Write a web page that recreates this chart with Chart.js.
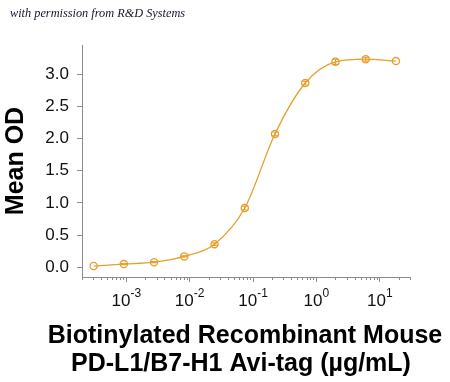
<!DOCTYPE html>
<html>
<head>
<meta charset="utf-8">
<script src="https://cdn.jsdelivr.net/npm/chart.js@4.4.1/dist/chart.umd.min.js"></script>
<style>
  html, body { margin: 0; padding: 0; background: #ffffff; }
  #wrap { position: relative; width: 450px; height: 382px; }
  #note { position: absolute; left: 10px; top: 6px; font-family: "Liberation Serif", "DejaVu Serif", serif; font-style: italic; font-size: 12.3px; color: #15152e; white-space: nowrap; }
  canvas { position: absolute; left: 0; top: 0; }
</style>
</head>
<body>
<div id="wrap">
  <canvas id="c" width="450" height="382"></canvas>
  <div id="note">with permission from R&amp;D Systems</div>
</div>
<script>
// ---- Data ----
const concentrations = [0.000305, 0.000914, 0.00274, 0.00823, 0.0247, 0.0741, 0.222, 0.667, 2, 6, 18];
const meanOD        = [0.02, 0.05, 0.08, 0.17, 0.36, 0.92, 2.07, 2.86, 3.19, 3.23, 3.20];
const errorOD       = [0.00, 0.01, 0.01, 0.01, 0.02, 0.03, 0.03, 0.03, 0.04, 0.03, 0.00];
const yTickValues   = [0.0, 0.5, 1.0, 1.5, 2.0, 2.5, 3.0];
const xTickValues   = [0.001, 0.01, 0.1, 1, 10];
const xTickExponents = ["-3", "-2", "-1", "0", "1"];
const xTitleLines   = ["Biotinylated Recombinant Mouse", "PD-L1/B7-H1 Avi-tag (\u00b5g/mL)"];
const yTitle        = "Mean OD";

const ORANGE = '#E89E2A';
const AXIS = '#8a8a8a';
const FONT = '"Liberation Sans", Arial, Helvetica, sans-serif';

const points = concentrations.map((c, i) => ({x: c, y: meanOD[i]}));

const extras = {
  id: 'extras',
  afterDatasetsDraw(chart) {
    const ctx = chart.ctx;
    const xs = chart.scales.x, ys = chart.scales.y;
    // error bars
    ctx.save();
    ctx.strokeStyle = ORANGE;
    ctx.lineWidth = 1.1;
    concentrations.forEach((c, i) => {
      const e = errorOD[i];
      if (!e) return;
      const px = xs.getPixelForValue(c);
      const y1 = ys.getPixelForValue(meanOD[i] + e);
      const y2 = ys.getPixelForValue(meanOD[i] - e);
      ctx.beginPath();
      ctx.moveTo(px, y1); ctx.lineTo(px, y2);
      ctx.moveTo(px - 3.5, y1); ctx.lineTo(px + 3.5, y1);
      ctx.moveTo(px - 3.5, y2); ctx.lineTo(px + 3.5, y2);
      ctx.stroke();
    });
    ctx.restore();
  },
  afterDraw(chart) {
    const ctx = chart.ctx;
    const xs = chart.scales.x;
    const base = chart.chartArea.bottom;
    ctx.save();
    // minor ticks
    ctx.strokeStyle = AXIS;
    ctx.lineWidth = 1;
    for (let k = -4; k <= 1; k++) {
      for (let m = 2; m <= 9; m++) {
        const v = m * Math.pow(10, k);
        if (v < xs.min || v > xs.max) continue;
        const px = Math.round(xs.getPixelForValue(v)) + 0.5;
        ctx.beginPath();
        ctx.moveTo(px, base); ctx.lineTo(px, base + 3);
        ctx.stroke();
      }
    }
    // x tick labels: 10 with superscript exponent
    ctx.fillStyle = '#111';
    ctx.textBaseline = 'alphabetic';
    xTickValues.forEach((v, i) => {
      const px = xs.getPixelForValue(v);
      ctx.font = '17px ' + FONT;
      const w1 = ctx.measureText('10').width;
      ctx.font = '12px ' + FONT;
      const w2 = ctx.measureText(xTickExponents[i]).width;
      const start = px - (w1 + w2) / 2;
      ctx.font = '17px ' + FONT;
      ctx.textAlign = 'left';
      ctx.fillText('10', start, 306);
      ctx.font = '12px ' + FONT;
      ctx.fillText(xTickExponents[i], start + w1, 297);
    });
    // x axis title
    ctx.font = 'bold 25px ' + FONT;
    ctx.textAlign = 'center';
    ctx.fillStyle = '#000';
    ctx.fillText(xTitleLines[0], 245, 343);
    ctx.fillText(xTitleLines[1], 241, 371);
    ctx.restore();
  }
};

new Chart(document.getElementById('c'), {
  type: 'line',
  data: {
    datasets: [{
      data: points,
      borderColor: ORANGE,
      borderWidth: 1.3,
      cubicInterpolationMode: 'monotone',
      pointStyle: 'circle',
      pointRadius: 3.6,
      pointBorderWidth: 1.3,
      pointBorderColor: ORANGE,
      pointBackgroundColor: 'rgba(255,255,255,0)',
      fill: false
    }]
  },
  options: {
    responsive: false,
    animation: false,
    devicePixelRatio: 1,
    layout: { padding: { top: 45, right: 40, left: 0, bottom: 0 } },
    plugins: { legend: { display: false }, tooltip: { enabled: false } },
    scales: {
      x: {
        type: 'logarithmic',
        min: 0.0002,
        max: 30,
        afterBuildTicks(scale) { scale.ticks = xTickValues.map(v => ({value: v})); },
        afterFit(scale) { scale.height = 105; },
        ticks: { display: false },
        grid: { drawOnChartArea: false, drawTicks: true, tickLength: 5, color: AXIS, tickWidth: 1 },
        border: { display: true, color: AXIS, width: 1 }
      },
      y: {
        type: 'linear',
        min: -0.15,
        max: 3.45,
        afterBuildTicks(scale) { scale.ticks = yTickValues.map(v => ({value: v})); },
        afterFit(scale) { scale.width = 82; },
        ticks: {
          padding: 8,
          color: '#111',
          font: { family: FONT, size: 17 },
          callback: v => Number(v).toFixed(1)
        },
        grid: { drawOnChartArea: false, drawTicks: true, tickLength: 5, color: AXIS, tickWidth: 1 },
        border: { display: true, color: AXIS, width: 1 },
        title: {
          display: true,
          text: yTitle,
          color: '#000',
          font: { family: FONT, size: 25, weight: 'bold' },
          padding: { top: 1, bottom: 0 }
        }
      }
    }
  },
  plugins: [extras]
});
</script>
</body>
</html>
